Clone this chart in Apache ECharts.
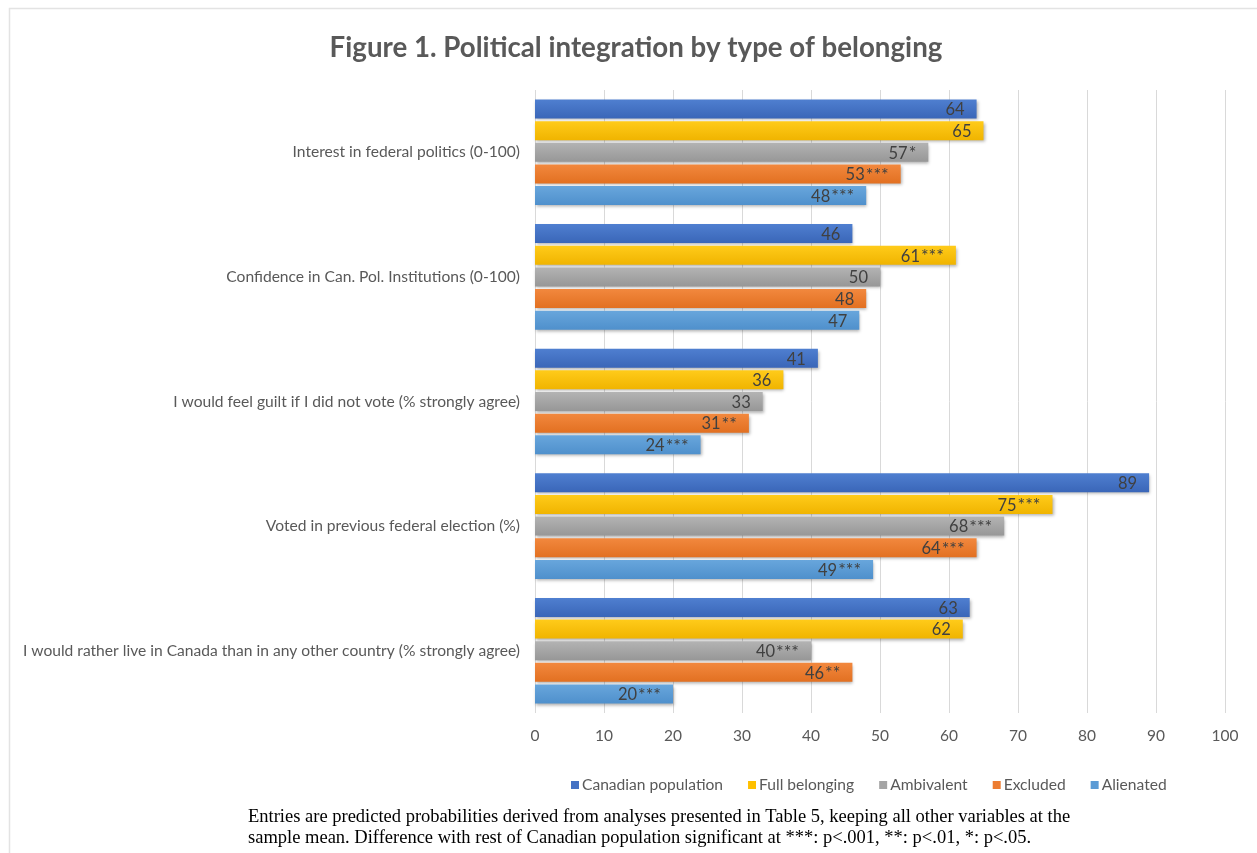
<!DOCTYPE html>
<html>
<head>
<meta charset="utf-8">
<script src="https://cdn.jsdelivr.net/npm/echarts@6/dist/echarts.min.js"></script>
<style>
html,body{margin:0;padding:0;background:#fff;}
#main{width:1257px;height:853px;}
</style>
</head>
<body>
<div id="main"></div>
<script>
const categories = [
  "Interest in federal politics (0-100)",
  "Confidence in Can. Pol. Institutions (0-100)",
  "I would feel guilt if I did not vote (% strongly agree)",
  "Voted in previous federal election (%)",
  "I would rather live in Canada than in any other country (% strongly agree)"
];
const seriesNames = ["Canadian population", "Full belonging", "Ambivalent", "Excluded", "Alienated"];
const canadianPopulation = [64, 46, 41, 89, 63];
const fullBelonging      = [65, 61, 36, 75, 62];
const ambivalent         = [57, 50, 33, 68, 40];
const excluded           = [53, 48, 31, 64, 46];
const alienated          = [48, 47, 24, 49, 20];
const sigCanadian  = ["", "", "", "", ""];
const sigFull      = ["", "***", "", "***", ""];
const sigAmbiv     = ["*", "", "", "***", "***"];
const sigExcluded  = ["***", "", "**", "***", "**"];
const sigAlienated = ["***", "", "***", "***", "***"];
const xTicks = [0, 10, 20, 30, 40, 50, 60, 70, 80, 90, 100];
const titleText = "Figure 1. Political integration by type of belonging";
const noteLines = [
  "Entries are predicted probabilities derived from analyses presented in Table 5, keeping all other variables at the",
  "sample mean. Difference with rest of Canadian population significant at ***: p<.001, **: p<.01, *: p<.05."
];

const values = [canadianPopulation, fullBelonging, ambivalent, excluded, alienated];
const sigs = [sigCanadian, sigFull, sigAmbiv, sigExcluded, sigAlienated];
const colors = [
  ["#4f7fd0", "#3a66b8"],
  ["#ffcb1a", "#f0b400"],
  ["#b3b3b3", "#979797"],
  ["#f2883e", "#e27021"],
  ["#68a6dc", "#4f90cc"]
];
const legendColors = ["#4472C4", "#FFC000", "#A5A5A5", "#ED7D31", "#5B9BD5"];

const chart = echarts.init(document.getElementById('main'), null, {renderer: 'canvas'});
const FONT = "Lato, 'Open Sans', sans-serif";

const series = seriesNames.map((name, i) => ({
  name: name,
  type: 'bar',
  barWidth: 19,
  barGap: '14%',
  data: values[i].map((v, j) => ({value: v, sig: sigs[i][j]})),
  itemStyle: {
    color: new echarts.graphic.LinearGradient(0, 0, 0, 1, [
      {offset: 0, color: colors[i][0]},
      {offset: 1, color: colors[i][1]}
    ]),
    shadowColor: 'rgba(0,0,0,0.3)',
    shadowBlur: 3,
    shadowOffsetY: 2,
    shadowOffsetX: 1
  },
  label: {
    show: true,
    position: 'insideRight',
    distance: 12,
    offset: [0, 1],
    color: '#404040',
    fontFamily: FONT,
    fontSize: 16.5,
    formatter: p => p.data.sig ? p.value + '{s|' + p.data.sig + '}' : String(p.value),
    rich: {
      s: {color: '#404040', fontFamily: FONT, fontSize: 18, padding: [0, 0, 0, 1]}
    }
  }
}));

chart.setOption({
  animation: false,
  backgroundColor: '#ffffff',
  color: legendColors,
  title: {
    text: titleText,
    left: 631,
    top: 29,
    textAlign: 'center',
    textStyle: {color: '#595959', fontSize: 27.7, fontWeight: 'bold', fontFamily: FONT}
  },
  legend: {
    data: seriesNames.map((n, i) => ({name: n, itemStyle: {color: legendColors[i]}})),
    left: 566,
    top: 772,
    itemWidth: 8,
    itemHeight: 8,
    itemGap: 25,
    icon: 'rect',
    textStyle: {color: '#595959', fontSize: 15.6, fontFamily: FONT, padding: [0, 0, 0, -2]}
  },
  grid: {left: 535, right: 32, top: 90, bottom: 140, containLabel: false},
  xAxis: {
    type: 'value',
    min: 0,
    max: 100,
    interval: 10,
    axisLine: {show: false},
    axisTick: {show: false},
    axisLabel: {color: '#595959', fontSize: 15.5, fontFamily: FONT, margin: 15,
      formatter: v => xTicks.includes(v) ? String(v) : ''},
    splitLine: {show: true, lineStyle: {color: '#d9d9d9', width: 1}}
  },
  yAxis: {
    type: 'category',
    inverse: true,
    data: categories,
    axisLine: {show: false},
    axisTick: {show: false},
    axisLabel: {color: '#595959', fontSize: 15.6, fontFamily: FONT, margin: 15}
  },
  graphic: [
    {type: 'rect', left: 7, top: 6, shape: {width: 1400, height: 1000},
      style: {fill: 'none', stroke: '#e3e3e3', lineWidth: 1.5}, silent: true, z: -1},
    {type: 'text', left: 248, top: 807,
      style: {text: noteLines.join('\n'), fill: '#000', fontSize: 18.5, lineHeight: 21,
        fontFamily: "'Liberation Serif', 'Times New Roman', serif"}}
  ],
  series: series
});
</script>
</body>
</html>
